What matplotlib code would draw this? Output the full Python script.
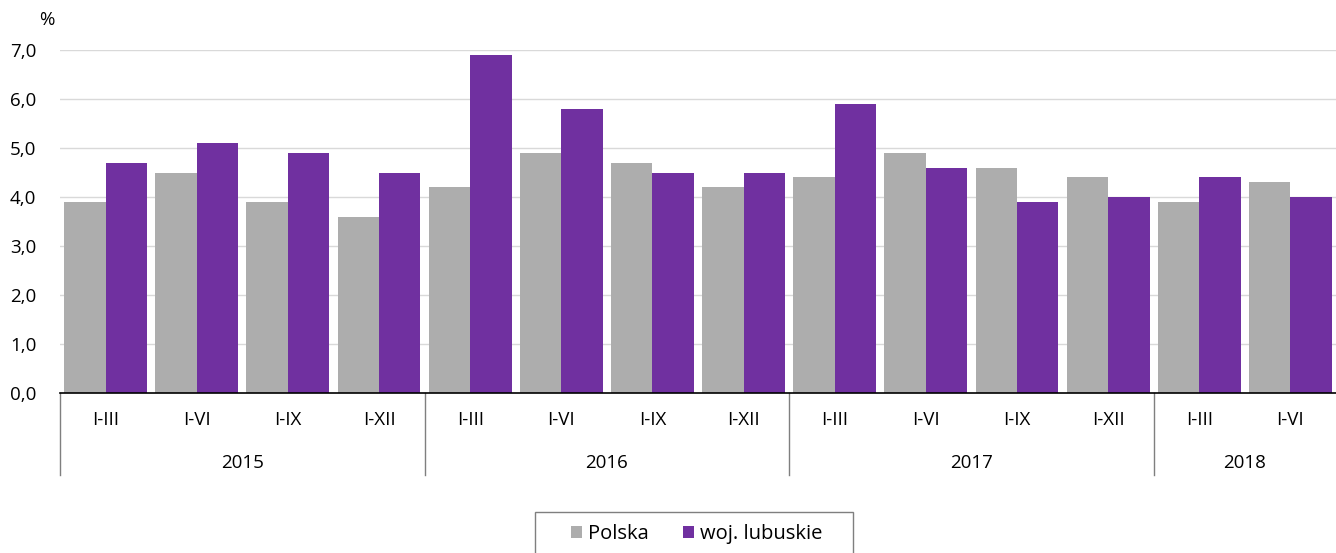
import numpy as np
import matplotlib.pyplot as plt
import matplotlib.transforms as mtransforms
from matplotlib.patches import Rectangle

plt.rcParams['font.family'] = ['Open Sans', 'DejaVu Sans']

periods = ['I-III', 'I-VI', 'I-IX', 'I-XII',
           'I-III', 'I-VI', 'I-IX', 'I-XII',
           'I-III', 'I-VI', 'I-IX', 'I-XII',
           'I-III', 'I-VI']
years = ['2015', '2016', '2017', '2018']
year_sizes = [4, 4, 4, 2]
polska = [3.9, 4.5, 3.9, 3.6, 4.2, 4.9, 4.7, 4.2, 4.4, 4.9, 4.6, 4.4, 3.9, 4.3]
lubuskie = [4.7, 5.1, 4.9, 4.5, 6.9, 5.8, 4.5, 4.5, 5.9, 4.6, 3.9, 4.0, 4.4, 4.0]

fig = plt.figure(figsize=(13.36, 5.53), dpi=100)
ax = fig.add_axes([60 / 1336, 1 - 393 / 553, 1 - 60 / 1336, (393 - 50) / 553])

x = np.arange(len(periods))
w = 0.455
b1 = ax.bar(x - w / 2, polska, w, color='#adadad', label='Polska', zorder=2)
b2 = ax.bar(x + w / 2, lubuskie, w, color='#7030a0', label='woj. lubuskie', zorder=2)

ax.set_xlim(-0.5, len(periods) - 0.5)
ax.set_ylim(0, 7)
ax.set_yticks(np.arange(0, 8))
ax.set_yticklabels([f'{v:.1f}'.replace('.', ',') for v in range(8)], fontsize=13.5)
ax.yaxis.grid(True, color='#d9d9d9', linewidth=1, zorder=0)
ax.tick_params(axis='y', length=0, pad=17)
for s in ['left', 'right', 'top']:
    ax.spines[s].set_visible(False)
ax.spines['bottom'].set_color('black')
ax.spines['bottom'].set_linewidth(1.2)
ax.spines['bottom'].set_zorder(3)

ax.set_xticks(x)
ax.set_xticklabels(periods, fontsize=13.5)
ax.tick_params(axis='x', length=0, pad=13)

# year labels and separators below the axis
trans = mtransforms.blended_transform_factory(ax.transData, ax.transAxes)
start = 0
ax.plot([-0.5, -0.5], [0, -0.24], transform=trans, color='#7f7f7f', lw=1, clip_on=False)
for yr, n in zip(years, year_sizes):
    mid = start + (n - 1) / 2
    ax.text(mid, -0.205, yr, transform=trans, ha='center', va='center', fontsize=13.5)
    end = start + n - 0.5
    if end < len(periods) - 0.5:
        ax.plot([end, end], [0, -0.24], transform=trans, color='#7f7f7f', lw=1, clip_on=False)
    start += n

fig.text(47 / 1336, 1 - 20 / 553, '%', fontsize=13.5, ha='center', va='center')

# legend box runs off the bottom edge like in the original
fig.patches.append(Rectangle((535 / 1336, -0.05), 318 / 1336, 1 - 512 / 553 + 0.05,
                             transform=fig.transFigure, fill=False,
                             edgecolor='#7f7f7f', linewidth=1))
leg = fig.legend(handles=[b1, b2], loc='center', bbox_to_anchor=(697 / 1336, 1 - 534 / 553),
                 ncol=2, frameon=False, handlelength=0.55, handleheight=0.55,
                 handletextpad=0.3, columnspacing=1.7, borderpad=0, prop={'size': 14.5})

fig.savefig('out.png', dpi=100)
